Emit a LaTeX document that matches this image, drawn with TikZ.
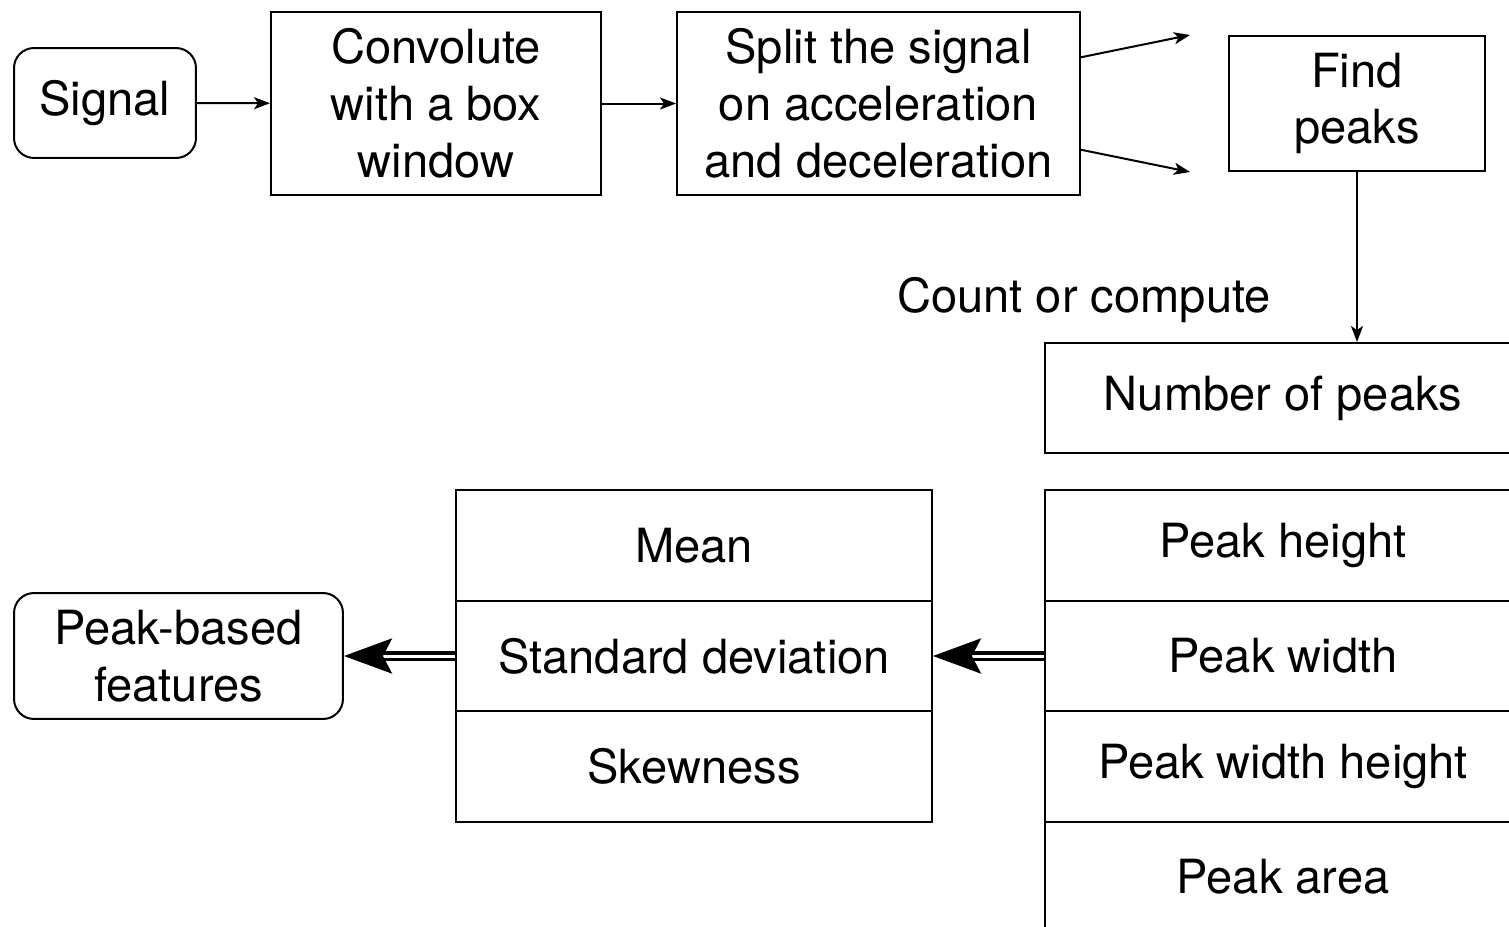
\documentclass[tikz,border=0pt]{standalone}
\usepackage{fontspec}
\setmainfont{TeX Gyre Heros}
\usetikzlibrary{arrows.meta,calc}
\begin{document}
\begin{tikzpicture}[x=0.02cm,y=-0.02cm,
  every node/.style={font=\fontsize{26.8}{32.4}\selectfont, align=center, inner sep=0pt},
  box/.style={draw, line width=0.04cm, rectangle},
  rbox/.style={draw, line width=0.04cm, rectangle, rounded corners=0.4cm},
  cell/.style={draw, line width=0.04cm, rectangle, minimum width=9.52cm, minimum height=2.21cm},
  arr/.style={line width=0.04cm, -{Stealth[length=0.32cm, width=0.24cm, inset=0.08cm]}},
  dblarr/.style={line width=0.075cm, double=white, double distance=0.06cm, -{Stealth[length=0.96cm, width=0.7cm, inset=0.18cm]}}
]
\useasboundingbox (0,0) rectangle (1509,927);
\clip (0,0) rectangle (1509,927);

\node[rbox, minimum width=3.64cm, minimum height=2.2cm] (signal) at (105,103) {Signal};
\node[box, minimum width=6.6cm, minimum height=3.66cm] (conv) at (436,103.5) {Convolute\\with a box\\window};
\node[box, minimum width=8.06cm, minimum height=3.66cm] (split) at (878.5,103.5) {Split the signal\\on acceleration\\and deceleration};
\node[box, minimum width=5.12cm, minimum height=2.7cm] (find) at (1357,103.5) {Find\\peaks};

\coordinate (e1) at (1190,35);
\coordinate (e2) at (1190,172);

\draw[arr] (signal) -- (conv);
\draw[arr] (conv) -- (split);
\draw[arr] ($(split.north east)!0.25!(split.south east)$) -- (e1);
\draw[arr] ($(split.north east)!0.75!(split.south east)$) -- (e2);

\node[cell, minimum height=2.2cm] (nop) at (1283,398) {Number of peaks};
\draw[arr] (find.south) -- (find.south |- nop.north);
\node (cc) at (1084,300) {Count or compute};

\node[cell] (ph) at (1283,545.5) {Peak height};
\node[cell] (pw) at (1283,656) {Peak width};
\node[cell] (pwh) at (1283,766.5) {Peak width height};
\node[cell] (pa) at (1283,877) {Peak area};

\node[cell] (mean) at (694,545.5) {Mean};
\node[cell] (std) at (694,656) {Standard deviation};
\node[cell] (skew) at (694,766.5) {Skewness};

\node[rbox, minimum width=6.58cm, minimum height=2.52cm] (pbf) at (178.5,656) {Peak-based\\features};

\draw[dblarr] (pw.west) -- (std.east);
\draw[dblarr] (std.west) -- (pbf.east);
\end{tikzpicture}
\end{document}
